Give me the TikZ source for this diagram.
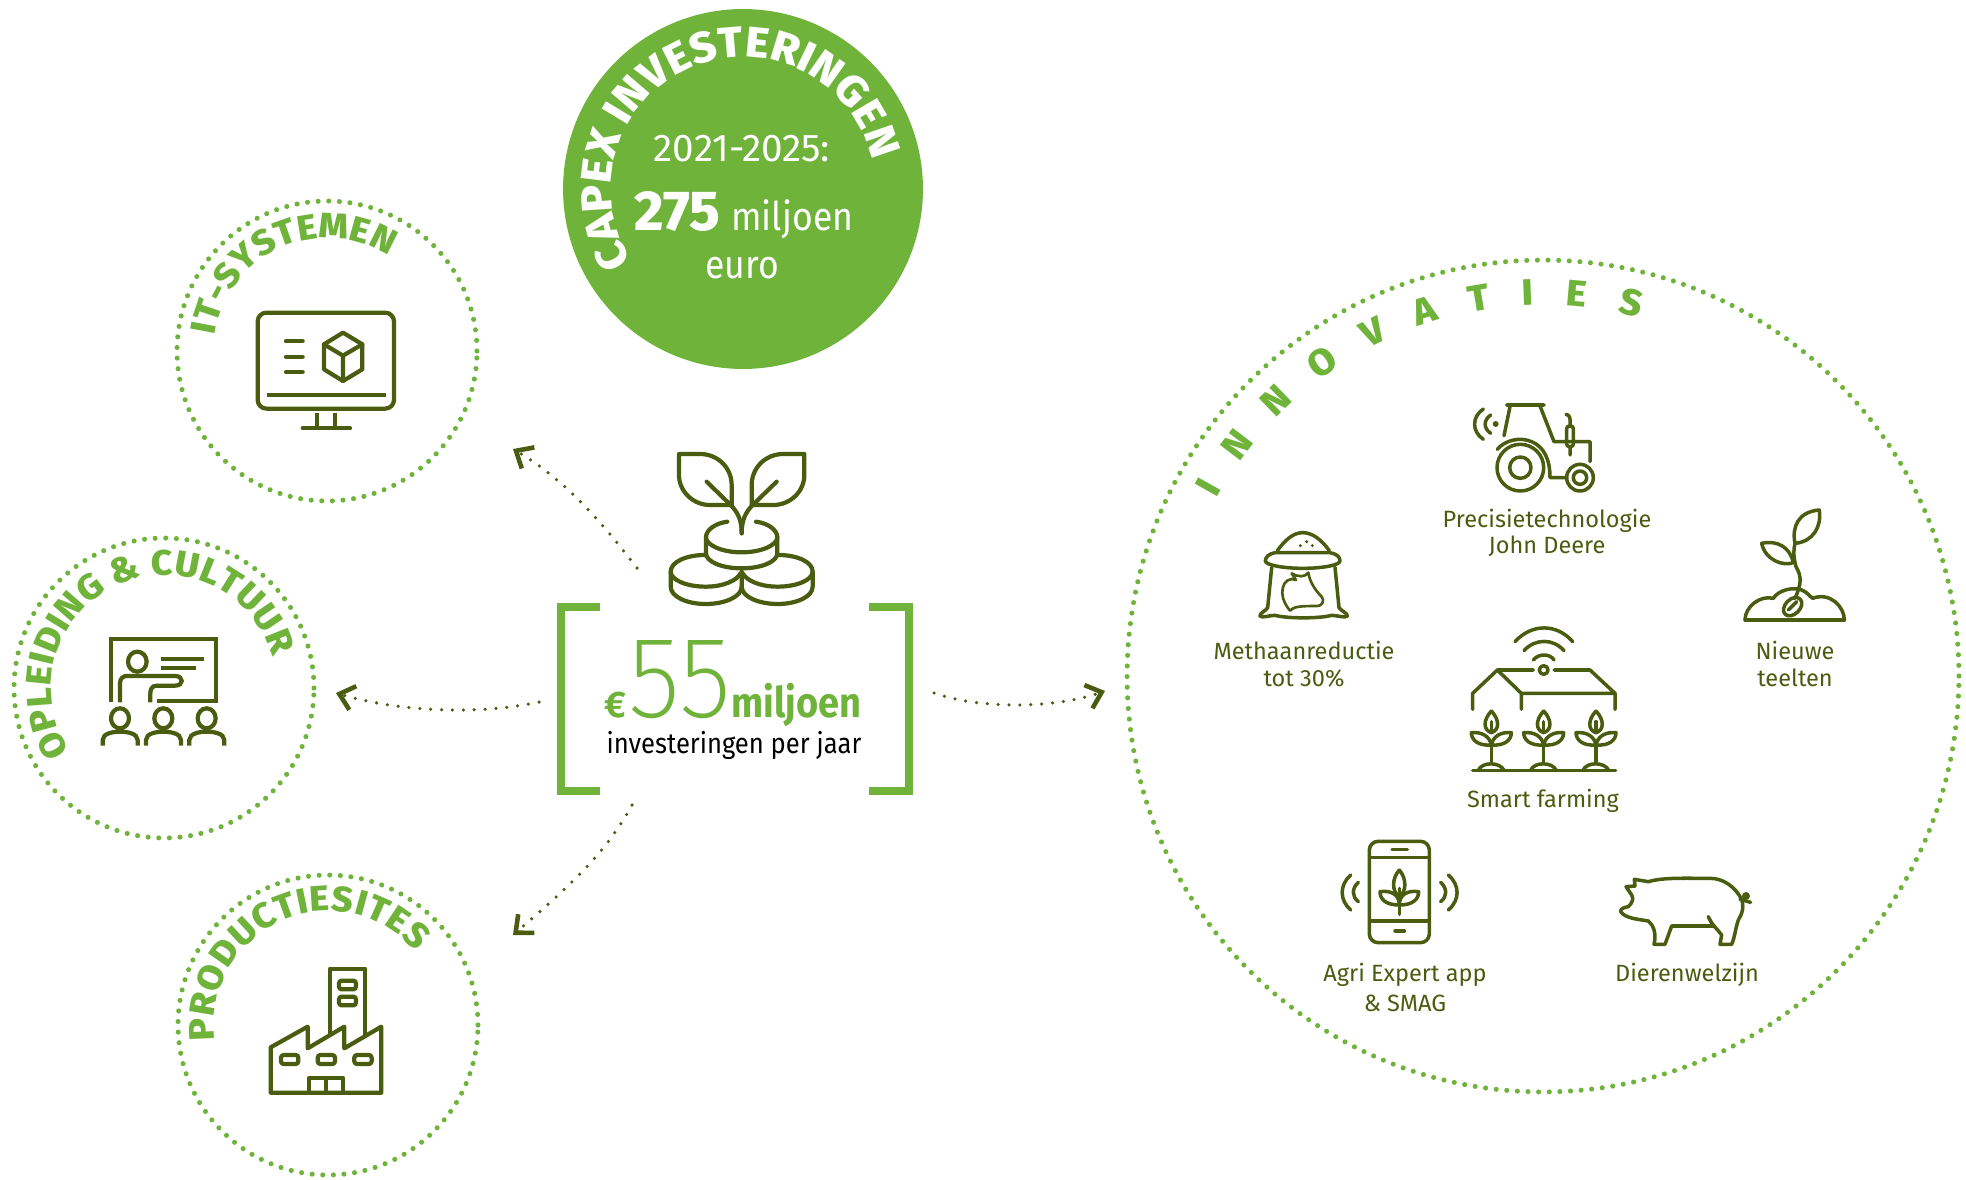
\documentclass[tikz,border=0pt]{standalone}
\usepackage{fontspec}
\setmainfont{Fira Sans}
\newfontfamily\fn{Fira Sans}[FakeStretch=0.9]
\newfontfamily\fxb{Fira Sans ExtraBold}
\newfontfamily\fxw{Fira Sans ExtraBold}[FakeStretch=1.05]
\newfontfamily\fthin{Fira Sans ExtraLight}[FakeStretch=0.93]
\usetikzlibrary{decorations.text,arrows.meta,calc}
\definecolor{lg}{HTML}{6FB33B}
\definecolor{dg}{HTML}{4A5C10}
\newcommand{\fs}[1]{\fontsize{#1}{#1}\selectfont}
\tikzset{
 zm/.style 2 args={xshift=#1*.02cm,yshift=-#2*.02cm,x=.0066667cm,y=-.0066667cm},
 ic/.style={draw=dg,line width=2.4pt,line cap=round,line join=round},
 icn/.style={draw=dg,line width=2pt,line cap=round,line join=round},
 ringc/.style={circle,inner sep=0pt,draw=lg,line width=2.9pt,line cap=round,dash pattern=on 0pt off 6.05pt},
 arr/.style={draw=dg,line width=2pt,line cap=round,dash pattern=on 0pt off 6.2pt,-{Straight Barb[length=8pt,width=14pt,line width=2.6pt,line cap=butt]}},
 lab/.style={text=dg,font=\fs{13.4},align=center,inner sep=0pt,anchor=base},
 brk/.style={draw=lg,line width=4.5pt,line join=miter},
}
\begin{document}
\begin{tikzpicture}[x=.02cm,y=-.02cm]
\useasboundingbox (0,0) rectangle (1966,1179);
% rings
\node[ringc,minimum size=6cm] (it) at (327,351) {};
\node[ringc,minimum size=6cm] (opl) at (164,688) {};
\node[ringc,minimum size=6cm] (prod) at (328,1025) {};
\node[ringc,minimum size=16.64cm] (inn) at (1543,676) {};
\node[circle,fill=lg,inner sep=0pt,minimum size=7.2cm] (capex) at (743,189) {};
% curved titles
\begin{scope}[y=.02cm]
\path[decorate,decoration={text along path,text align={fit to path},text={|\fxw\fs{24.5}\color{white}|CAPEX INVESTERINGEN}}]
  (capex)++(213:132) arc[start angle=213,end angle=13,radius=132];
\path[decorate,decoration={text along path,text align={fit to path},text={|\fxw\fs{20.2}\color{lg}|IT-SYSTEMEN}}]
  (it)++(172:113) arc[start angle=172,end angle=57,radius=113];
\path[decorate,decoration={text along path,text align={fit to path},text={|\fxw\fs{20.2}\color{lg}|OPLEIDING {\&} CULTUUR}}]
  (opl)++(214:113) arc[start angle=214,end angle=16,radius=113];
\path[decorate,decoration={text along path,text align={fit to path},text={|\fxw\fs{20.2}\color{lg}|PRODUCTIESITES}}]
  (prod)++(188:114) arc[start angle=188,end angle=40,radius=114];
\path[decorate,decoration={text along path,text align={fit to path},text={|\fxw\fs{21}\color{lg}|INNOVATIES}}]
  (inn)++(151.5:371) arc[start angle=151.5,end angle=75,radius=371];
\end{scope}
% capex text
\node[anchor=base,text=white,font=\fs{22},inner sep=0pt] (c1) at (742,162) {2021-2025:};
\node[anchor=base west,text=white,font=\fxb\fs{32},inner sep=0pt] (c2) at (634,231) {275};
\node[anchor=base west,text=white,font=\fn\fs{22.5},inner sep=0pt] (c3) at (731,231) {miljoen};
\node[anchor=base,text=white,font=\fn\fs{22.5},inner sep=0pt] (c4) at (742,278) {euro};
% centre text
\node[anchor=base west,text=lg,font=\bfseries\fs{21},inner sep=0pt] (e) at (604,717) {€};
\node[anchor=base west,text=lg,font=\fthin\fs{66},inner sep=0pt] (n55) at (628,717) {55};
\node[anchor=base west,text=lg,font=\fn\bfseries\fs{24},inner sep=0pt] (m) at (731,717) {miljoen};
\node[anchor=base,text=black,font=\fn\fs{16.2},inner sep=0pt] (inv) at (734,753) {investeringen per jaar};
\draw[brk] (600,607)--(561,607)--(561,791)--(600,791);
\draw[brk] (869,607)--(909,607)--(909,791)--(869,791);
% arrows
\coordinate (a1s) at (637,568); \coordinate (a1e) at (513,449);
\coordinate (a2s) at (539,702); \coordinate (a2e) at (336,693);
\coordinate (a3s) at (632,805); \coordinate (a3e) at (513,935);
\coordinate (a4s) at (934,693); \coordinate (a4e) at (1105,691);
\draw[arr] (a1s) .. controls (600,520) and (565,480) .. (a1e);
\draw[arr] (a2s) .. controls (480,715) and (400,712) .. (a2e);
\draw[arr] (a3s) .. controls (605,855) and (565,890) .. (a3e);
\draw[arr] (a4s) .. controls (975,708) and (1050,710) .. (a4e);
% labels
\node[lab] (l1) at (1547,527) {Precisietechnologie};
\node[lab] (l1b) at (1547,553) {John Deere};
\node[lab] (l2) at (1304,659) {Methaanreductie};
\node[lab] (l2b) at (1304,686) {tot 30\%};
\node[lab] (l3) at (1795,659) {Nieuwe};
\node[lab] (l3b) at (1795,686) {teelten};
\node[lab] (l4) at (1543,807) {Smart farming};
\node[lab] (l5) at (1405,981) {Agri Expert app};
\node[lab] (l5b) at (1405,1011) {\&\ SMAG};
\node[lab] (l6) at (1687,981) {Dierenwelzijn};
% coin sprout icon
\begin{scope}[zm={530}{430}]
\draw[ic] (447,72)--(510,72) .. controls (565,72) and (605,115) .. (605,165)--(605,225)--(540,225) .. controls (490,225) and (447,185) .. (447,135)--cycle;
\draw[ic] (823,72)--(760,72) .. controls (705,72) and (665,115) .. (665,165)--(665,225)--(730,225) .. controls (780,225) and (823,185) .. (823,135)--cycle;
\draw[ic] (530,155)--(605,228) .. controls (620,245) and (635,265) .. (635,310);
\draw[ic] (740,155)--(665,228) .. controls (650,245) and (635,265) .. (635,310);
\draw[ic] (592,275) .. controls (555,280) and (528,300) .. (528,322) .. controls (528,345) and (575,367) .. (635,367) .. controls (695,367) and (742,345) .. (742,322) .. controls (742,300) and (715,280) .. (678,275);
\draw[ic] (528,322)--(528,370) .. controls (528,395) and (575,415) .. (635,415) .. controls (695,415) and (742,395) .. (742,370)--(742,322);
\draw[ic] (525,375) .. controls (470,375) and (422,395) .. (422,425) .. controls (422,450) and (470,470) .. (527,470) .. controls (580,470) and (620,452) .. (632,430);
\draw[ic] (422,425)--(422,470) .. controls (422,500) and (470,522) .. (527,522) .. controls (585,522) and (635,500) .. (635,470)--(635,425);
\draw[ic] (745,375) .. controls (800,375) and (848,395) .. (848,425) .. controls (848,450) and (800,470) .. (743,470) .. controls (690,470) and (650,452) .. (638,430);
\draw[ic] (848,425)--(848,470) .. controls (848,500) and (800,522) .. (743,522) .. controls (685,522) and (635,500) .. (635,470);
\end{scope}
% monitor
\begin{scope}[zm={170}{190}]
\draw[ic,rounded corners=5pt] (263,368) rectangle (672,656);
\draw[ic,line cap=butt] (290,615)--(647,615);
\draw[ic] (348,454)--(398,454) (348,500)--(398,500) (348,547)--(398,547);
\draw[ic] (519,428)--(577,463)--(577,538)--(519,573)--(462,538)--(462,463)--cycle;
\draw[ic] (462,463)--(519,497)--(577,463) (519,497)--(519,573);
\draw[ic,line cap=butt] (442,670)--(442,715) (494,670)--(494,715);
\draw[ic] (398,715)--(540,715);
\end{scope}
% classroom
\begin{scope}[zm={0}{530},ic/.append style={line cap=butt,line join=miter}]
\draw[ic] (333,517)--(333,328)--(648,328)--(648,513)--(471,513);
\draw[ic] (412,395) ellipse [x radius=28,y radius=30];
\draw[ic] (360,517)--(360,460) .. controls (360,445) and (370,438) .. (380,438)--(525,438) .. controls (552,438) and (552,467) .. (525,467)--(470,467) .. controls (455,467) and (451,480) .. (451,490)--(451,517);
\draw[ic] (484,388)--(612,388) (484,413)--(587,413);
\foreach \cx in {360,490,620}{
 \draw[ic] (\cx,565) ellipse [x radius=27,y radius=30];
 \draw[ic] (\cx-52,647)--(\cx-52,630) .. controls (\cx-52,610) and (\cx-20,605) .. (\cx,605) .. controls (\cx+20,605) and (\cx+53,610) .. (\cx+53,630)--(\cx+53,647);
}
\end{scope}
% factory
\begin{scope}[zm={170}{860}]
\draw[ic] (480,520)--(480,326)--(586,326)--(586,525);
\draw[ic,rounded corners=1.5pt] (507,362) rectangle (558,388);
\draw[ic,rounded corners=1.5pt] (507,410) rectangle (558,436);
\draw[ic] (302,698)--(302,562)--(413,500)--(413,565)--(523,500)--(523,565)--(634,500)--(634,698)--cycle;
\foreach \wx in {333,443,553}{\draw[ic,rounded corners=1.5pt] (\wx,585) rectangle (\wx+52,612);}
\draw[ic] (418,698)--(418,654)--(519,654)--(519,698) (468,654)--(468,698);
\end{scope}
% sack
\begin{scope}[zm={1190}{380}]
\draw[icn] (262,512) .. controls (285,480) and (310,458) .. (338,458) .. controls (368,458) and (395,480) .. (418,512);
\draw[icn] (255,518) .. controls (235,522) and (226,532) .. (226,543) .. controls (226,555) and (280,565) .. (338,565) .. controls (400,565) and (450,555) .. (450,543) .. controls (450,530) and (440,522) .. (420,518)--cycle;
\draw[icn] (245,562)--(233,683) .. controls (225,695) and (210,698) .. (210,708) .. controls (215,715) and (240,706) .. (255,706) .. controls (290,716) and (390,716) .. (425,706) .. controls (440,706) and (465,715) .. (472,708) .. controls (472,698) and (455,695) .. (447,683)--(435,562);
\fill[dg] (331,497) circle [radius=5] (350,485) circle [radius=5] (367,497) circle [radius=5];
\draw[line width=1.5pt,draw=dg,line join=round] (305,597) .. controls (285,600) and (277,615) .. (277,640) .. controls (277,660) and (290,680) .. (300,692) .. controls (310,680) and (330,678) .. (380,678) .. controls (400,678) and (403,660) .. (395,650) .. controls (380,635) and (360,610) .. (355,578) .. controls (345,592) and (325,592) .. (305,580)--(318,600)--cycle;
\end{scope}
% tractor and seedling
\begin{scope}[zm={1440}{380}]
\draw[icn] (200,75)--(312,75) (210,80)--(192,167);
\draw[icn] (300,78)--(342,185)--(450,185)--(450,245);
\draw[icn,rounded corners=1.5pt] (380,138) rectangle (400,200);
\draw[icn] (378,103) .. controls (390,105) and (392,115) .. (390,138) (390,200)--(390,225);
\draw[icn] (241,263) circle [radius=70] (241,263) circle [radius=32];
\draw[icn] (172,208) .. controls (195,180) and (240,170) .. (275,185) .. controls (310,200) and (330,235) .. (330,293)--(380,293);
\draw[icn] (420,293) circle [radius=40] (420,293) circle [radius=20];
\fill[dg] (167,132) circle [radius=9];
\draw[icn] (152,105) .. controls (130,120) and (130,145) .. (152,160);
\draw[icn] (130,87) .. controls (95,110) and (95,155) .. (130,178);
\draw[icn] (915,720)--(1213,720);
\draw[icn] (915,720) .. controls (915,680) and (960,645) .. (1000,655) .. controls (1015,630) and (1060,620) .. (1085,630) .. controls (1100,635) and (1110,650) .. (1118,655) .. controls (1170,635) and (1213,680) .. (1213,720);
\draw[icn,rotate around={45:(1058,680)}] (1058,680) ellipse [x radius=32,y radius=22];
\draw[icn] (1045,690)--(1070,665);
\draw[icn] (1065,655) .. controls (1085,610) and (1085,590) .. (1068,560) .. controls (1060,530) and (1060,510) .. (1065,490);
\draw[icn] (1065,490) .. controls (1055,440) and (1075,395) .. (1138,390) .. controls (1145,440) and (1120,485) .. (1065,490);
\draw[icn] (1060,548) .. controls (1030,560) and (975,540) .. (965,490) .. controls (1010,480) and (1050,500) .. (1060,548);
\end{scope}
% smart farming
\begin{scope}[zm={1450}{610}]
\draw[icn] (195,95) .. controls (245,40) and (320,40) .. (368,95);
\draw[icn] (222,122) .. controls (255,85) and (310,85) .. (342,122);
\draw[icn] (250,150) .. controls (265,130) and (300,130) .. (312,150);
\draw[icn] (281,180) circle [radius=13];
\draw[icn] (68,298)--(68,250)--(142,180)--(250,180);
\draw[icn] (312,180)--(420,180)--(495,250)--(495,298);
\draw[icn] (142,180)--(214,250)--(214,298) (214,250)--(495,250);
\draw[icn] (68,481)--(497,481);
\foreach \px in {124,281,438}{
 \draw[icn] (\px-39,481) .. controls (\px-29,455) and (\px+26,455) .. (\px+38,481);
 \draw[icn] (\px,405)--(\px,455);
 \draw[icn] (\px,303) .. controls (\px-25,330) and (\px-25,360) .. (\px,368) .. controls (\px+25,360) and (\px+25,330) .. (\px,303);
 \draw[icn] (\px,335)--(\px,368);
 \draw[icn] (\px,405) .. controls (\px-40,408) and (\px-60,390) .. (\px-60,368) .. controls (\px-30,365) and (\px-5,378) .. (\px,405);
 \draw[icn] (\px,405) .. controls (\px+40,408) and (\px+60,390) .. (\px+60,368) .. controls (\px+30,365) and (\px+5,378) .. (\px,405);
}
\end{scope}
% phone and pig
\begin{scope}[zm={1300}{820}]
\draw[icn,rounded corners=5pt] (208,64) rectangle (388,368);
\draw[icn,line cap=butt] (208,113)--(388,113) (208,303)--(388,303);
\draw[icn] (276,89)--(322,89) (285,333)--(313,333) (298,205)--(298,283);
\draw[icn] (298,150) .. controls (275,175) and (275,215) .. (298,230) .. controls (320,215) and (320,175) .. (298,150);
\draw[icn] (298,255) .. controls (260,255) and (240,240) .. (240,215) .. controls (275,210) and (298,225) .. (298,255);
\draw[icn] (298,255) .. controls (335,255) and (356,240) .. (356,215) .. controls (320,210) and (298,225) .. (298,255);
\draw[icn] (152,165) .. controls (118,195) and (118,240) .. (152,270);
\draw[icn] (175,187) .. controls (155,205) and (155,230) .. (175,245);
\draw[icn] (445,165) .. controls (480,195) and (480,240) .. (445,270);
\draw[icn] (422,187) .. controls (442,205) and (442,230) .. (422,245);
\draw[icn] (1045,185) .. controls (1090,172) and (1150,175) .. (1230,175) .. controls (1270,175) and (1305,200) .. (1325,238) .. controls (1335,270) and (1320,290) .. (1315,300) .. controls (1305,330) and (1305,350) .. (1295,373)--(1260,373)--(1265,345) .. controls (1255,330) and (1235,315) .. (1225,290) .. controls (1232,305) and (1240,315) .. (1240,318)--(1115,318)--(1095,373)--(1062,373) .. controls (1070,340) and (1060,315) .. (1045,303) .. controls (1015,298) and (975,295) .. (962,275) .. controls (960,265) and (975,262) .. (985,260) .. controls (1000,245) and (1000,235) .. (995,225)--(978,200)--(1005,198)--(1003,178)--cycle;
\fill[dg] (1338,228) circle [radius=12];
\draw[icn] (1320,238)--(1352,247);
\end{scope}
\end{tikzpicture}
\end{document}
